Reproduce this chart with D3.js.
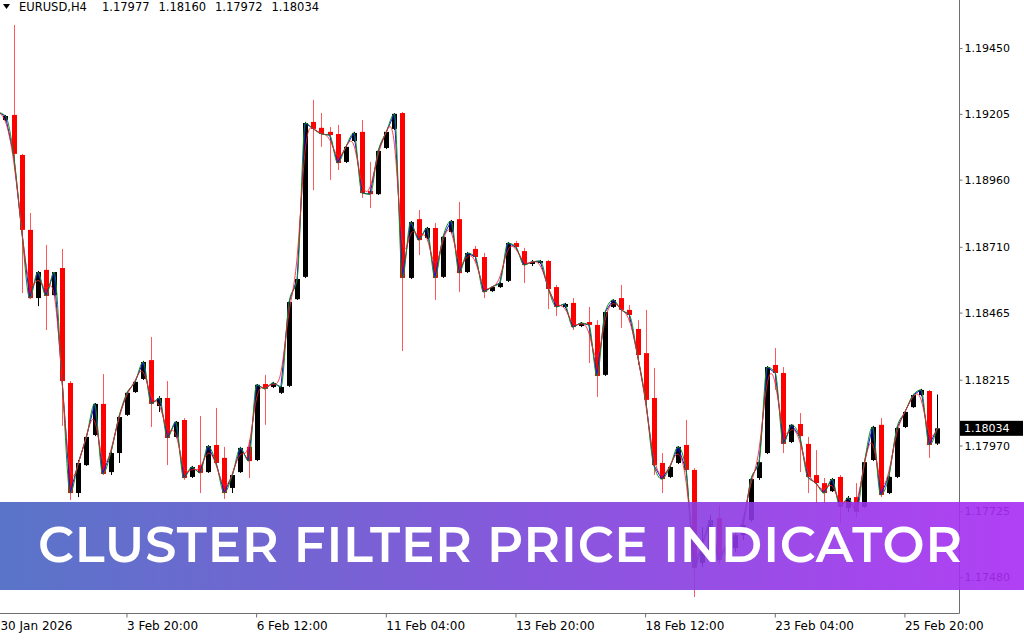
<!DOCTYPE html>
<html><head><meta charset="utf-8">
<script src="https://cdn.jsdelivr.net/npm/d3@7"></script>
<style>
html,body{margin:0;padding:0;background:#fff;}
svg{display:block;}
</style></head>
<body>
<svg id="chart" width="1024" height="640"></svg>
<script>
// ---------- data ----------
const symbolLabel = "EURUSD,H4";
const firstBarTime = Date.UTC(2026, 0, 30, 4); // 30 Jan 2026 04:00, H4 bars (weekends skipped)

const opens = [1.19190,1.19182,1.19201,1.19052,1.18773,1.18519,1.18624,1.18530,1.18631,1.18203,
1.17793,1.17897,1.18009,1.18125,1.17871,1.17942,1.18084,1.18169,1.18218,1.18288,
1.18117,1.18147,1.18002,1.18065,1.17853,1.17897,1.17871,1.17972,1.17924,1.17812,
1.17871,1.17965,1.17916,1.18199,1.18188,1.18166,1.18192,1.18515,1.18598,1.19175,
1.19153,1.19138,1.19130,1.19026,1.19104,1.19138,1.18918,1.18906,1.19078,1.19149,
1.19208,1.18594,1.18813,1.18743,1.18780,1.18598,1.18765,1.18813,1.18616,1.18702,
1.18672,1.18545,1.18560,1.18583,1.18724,1.18694,1.18646,1.18650,1.18657,1.18560,
1.18486,1.18501,1.18415,1.18430,1.18419,1.18233,1.18486,1.18519,1.18475,1.18404,
1.18314,1.18147,1.17905,1.17853,1.17905,1.17972,1.17879,1.17533,1.17562,1.17700,
1.17562,1.17588,1.17636,1.17692,1.17849,1.17942,1.18270,1.18240,1.17983,1.18050,
1.17976,1.17860,1.17830,1.17800,1.17853,1.17737,1.17778,1.17741,1.17916,1.18047,
1.17793,1.17853,1.18039,1.18113,1.18158,1.18173,1.17977];

const highs = [1.19227,1.19201,1.19536,1.19056,1.18836,1.18620,1.18717,1.18601,1.18702,1.18210,
1.17916,1.18005,1.18128,1.18236,1.17946,1.18080,1.18169,1.18210,1.18285,1.18374,
1.18154,1.18210,1.18061,1.18072,1.17894,1.18080,1.17972,1.18110,1.17965,1.17864,
1.17965,1.17990,1.18199,1.18233,1.18207,1.18192,1.18508,1.18594,1.19175,1.19257,
1.19208,1.19156,1.19164,1.19085,1.19138,1.19182,1.19026,1.19070,1.19141,1.19208,
1.19212,1.18806,1.18847,1.18784,1.18799,1.18750,1.18810,1.18877,1.18691,1.18713,
1.18687,1.18564,1.18579,1.18728,1.18732,1.18706,1.18661,1.18661,1.18661,1.18568,
1.18501,1.18519,1.18430,1.18486,1.18437,1.18471,1.18515,1.18568,1.18493,1.18437,
1.18475,1.18259,1.17942,1.17894,1.17968,1.18065,1.17886,1.17666,1.17711,1.17748,
1.17618,1.17655,1.17692,1.17849,1.17916,1.18266,1.18333,1.18262,1.18050,1.18091,
1.18002,1.17953,1.17849,1.17849,1.17860,1.17782,1.17830,1.17912,1.18043,1.18072,
1.17857,1.18039,1.18099,1.18162,1.18181,1.18177,1.18160];

const lows = [1.19175,1.19178,1.19000,1.18538,1.18515,1.18489,1.18400,1.18527,1.18043,1.17767,
1.17778,1.17894,1.18005,1.17860,1.17860,1.17905,1.18080,1.18166,1.18214,1.18039,
1.18095,1.17897,1.17998,1.17842,1.17849,1.17793,1.17868,1.17897,1.17771,1.17793,
1.17868,1.17849,1.17912,1.18047,1.18184,1.18162,1.18188,1.18512,1.18594,1.18921,
1.19082,1.18959,1.18996,1.19022,1.19100,1.18892,1.18854,1.18903,1.19074,1.19145,
1.18322,1.18590,1.18679,1.18739,1.18512,1.18594,1.18762,1.18542,1.18612,1.18654,
1.18519,1.18542,1.18557,1.18579,1.18698,1.18575,1.18638,1.18646,1.18478,1.18452,
1.18482,1.18400,1.18411,1.18277,1.18151,1.18229,1.18482,1.18408,1.18430,1.18270,
1.18110,1.17860,1.17793,1.17849,1.17901,1.17871,1.17406,1.17518,1.17551,1.17525,
1.17544,1.17573,1.17618,1.17685,1.17842,1.17938,1.18177,1.17942,1.17979,1.17871,
1.17793,1.17756,1.17756,1.17797,1.17681,1.17722,1.17700,1.17737,1.17912,1.17778,
1.17789,1.17849,1.18035,1.18110,1.18154,1.17924,1.17972];

const closes = [1.19212,1.19197,1.19056,1.18773,1.18519,1.18616,1.18527,1.18616,1.18210,1.17793,
1.17905,1.18002,1.18125,1.17864,1.17942,1.18076,1.18166,1.18207,1.18281,1.18125,
1.18147,1.17998,1.18058,1.17849,1.17890,1.17868,1.17968,1.17905,1.17793,1.17860,
1.17961,1.17912,1.18196,1.18181,1.18203,1.18188,1.18504,1.18590,1.19171,1.19149,
1.19130,1.19126,1.19022,1.19082,1.19134,1.18910,1.18906,1.19067,1.19138,1.19205,
1.18594,1.18802,1.18735,1.18780,1.18594,1.18747,1.18806,1.18612,1.18687,1.18672,
1.18542,1.18560,1.18575,1.18724,1.18709,1.18642,1.18654,1.18657,1.18553,1.18486,
1.18497,1.18411,1.18426,1.18419,1.18229,1.18467,1.18512,1.18475,1.18456,1.18307,
1.18140,1.17897,1.17845,1.17890,1.17965,1.17879,1.17514,1.17600,1.17692,1.17544,
1.17600,1.17636,1.17674,1.17845,1.17908,1.18262,1.18240,1.17976,1.18047,1.18005,
1.17853,1.17830,1.17793,1.17845,1.17741,1.17775,1.17722,1.17908,1.18039,1.17786,
1.17853,1.18035,1.18095,1.18158,1.18177,1.17972,1.18034];

const priceTicks = [1.19450, 1.19205, 1.18960, 1.18710, 1.18465, 1.18215, 1.17970, 1.17725, 1.17480];
const timeTickIndex = [0, 16, 32, 48, 64, 80, 96, 112];
const timeTickLabels = ["30 Jan 2026", "3 Feb 20:00", "6 Feb 12:00", "11 Feb 04:00",
                        "13 Feb 20:00", "18 Feb 12:00", "23 Feb 04:00", "25 Feb 20:00"];
const bannerTitle = "CLUSTER FILTER PRICE INDICATOR";

// ---------- categories (bar times) ----------
const barTimes = [];
{
  let t = firstBarTime;
  while (barTimes.length < opens.length) {
    const d = new Date(t);
    const wd = d.getUTCDay();
    if (wd !== 0 && wd !== 6) barTimes.push(d.toISOString());
    t += 4 * 3600 * 1000;
  }
}
const bars = opens.map((o, i) => ({ key: barTimes[i], o, h: highs[i], l: lows[i], c: closes[i] }));

// ---------- layout ----------
const W = 1024, H = 640;
const plotRight = 959, plotBottom = 613;
const svg = d3.select("#chart");

const x = d3.scaleBand().domain(barTimes).range([-6.75, 941.4]).padding(0);
const y = d3.scaleLinear().domain([1.17350, 1.19629]).range([612, 0]);
const cx = k => x(k) + x.bandwidth() / 2;

const defs = svg.append("defs");
defs.append("clipPath").attr("id", "plotClip")
  .append("rect").attr("x", 0).attr("y", 0).attr("width", plotRight).attr("height", plotBottom);

const grad = defs.append("linearGradient").attr("id", "bannerGrad")
  .attr("x1", "0%").attr("y1", "0%").attr("x2", "100%").attr("y2", "0%");
[["0%", "#4766c2"], ["35%", "#6a50d0"], ["70%", "#8c3be2"], ["100%", "#a82cf3"]]
  .forEach(([o, c]) => grad.append("stop").attr("offset", o).attr("stop-color", c));

svg.append("rect").attr("width", W).attr("height", H).attr("fill", "#fff");

const plot = svg.append("g").attr("clip-path", "url(#plotClip)");

// wicks
plot.append("g").selectAll("line").data(bars).join("line")
  .attr("x1", d => Math.round(cx(d.key)) + 0.5)
  .attr("x2", d => Math.round(cx(d.key)) + 0.5)
  .attr("y1", d => y(d.h))
  .attr("y2", d => y(d.l))
  .attr("stroke", d => d.c >= d.o ? "#000" : "#ff2020")
  .attr("stroke-opacity", d => d.c >= d.o ? 1 : 0.75)
  .attr("stroke-width", 1);

// bodies
const bodyW = 5;
plot.append("g").selectAll("rect").data(bars).join("rect")
  .attr("x", d => Math.round(cx(d.key)) + 0.5 - bodyW / 2)
  .attr("width", bodyW)
  .attr("y", d => y(Math.max(d.o, d.c)))
  .attr("height", d => Math.max(1.5, Math.abs(y(d.o) - y(d.c))))
  .attr("fill", d => d.c >= d.o ? "#000" : "#ff0000");

// indicator lines (drawn through the closes with different curve styles)
const lineGen = curve => d3.line().x(d => cx(d.key)).y(d => y(d.c)).curve(curve);
plot.append("path").datum(bars).attr("d", lineGen(d3.curveLinear))
  .attr("fill", "none").attr("stroke", "#1010ff").attr("stroke-width", 1);
plot.append("path").datum(bars).attr("d", lineGen(d3.curveMonotoneX))
  .attr("fill", "none").attr("stroke", "#109010").attr("stroke-width", 1);
plot.append("path").datum(bars).attr("d", lineGen(d3.curveBasis))
  .attr("fill", "none").attr("stroke", "#ff2020").attr("stroke-width", 1).attr("stroke-opacity", 0.85);

// axes frame
svg.append("line").attr("x1", plotRight + 0.5).attr("x2", plotRight + 0.5).attr("y1", 0).attr("y2", plotBottom + 0.5)
  .attr("stroke", "#6e6e6e");
svg.append("line").attr("x1", 0).attr("x2", plotRight + 0.5).attr("y1", plotBottom + 0.5).attr("y2", plotBottom + 0.5)
  .attr("stroke", "#6e6e6e");

// right price axis
const yAxis = d3.axisRight(y).tickValues(priceTicks).tickFormat(d3.format(".5f")).tickSize(3).tickPadding(2);
const gy = svg.append("g").attr("transform", `translate(${plotRight + 0.5},0)`).call(yAxis);
gy.select(".domain").remove();
gy.selectAll("line").attr("stroke", "#6e6e6e");
gy.selectAll("text").attr("font-family", "DejaVu Sans").attr("font-size", 11).attr("fill", "#000");

// current price label
const last = bars[bars.length - 1];
const cp = svg.append("g").attr("transform", `translate(${plotRight + 1},${y(last.c)})`);
cp.append("rect").attr("x", 0).attr("y", -7.5).attr("width", 63).attr("height", 15).attr("fill", "#000");
cp.append("text").attr("x", 4).attr("dy", "0.36em").text(d3.format(".5f")(last.c))
  .attr("font-family", "DejaVu Sans").attr("font-size", 11).attr("fill", "#fff");

// bottom time axis
const tickKeys = timeTickIndex.map(i => barTimes[i]);
const xAxis = d3.axisBottom(x).tickValues(tickKeys)
  .tickFormat((k, i) => timeTickLabels[i]).tickSize(4).tickPadding(4);
const gx = svg.append("g").attr("transform", `translate(0,${plotBottom + 0.5})`).call(xAxis);
gx.select(".domain").remove();
gx.selectAll("line").attr("stroke", "#6e6e6e");
gx.selectAll("text").attr("text-anchor", "start").attr("font-family", "DejaVu Sans")
  .attr("font-size", 12).attr("fill", "#000")
  .attr("x", k => Math.max(0, -cx(k) + 0.5));

// header
const hdr = svg.append("g");
hdr.append("path").attr("d", "M3,4 L10,4 L6.5,9 Z").attr("fill", "#000");
hdr.append("text").attr("x", 19).attr("y", 11).text(symbolLabel)
  .attr("font-family", "DejaVu Sans").attr("font-size", 11.5).attr("fill", "#000");
const headerVals = [last.o, last.h, last.l, last.c].map(d3.format(".5f"));
hdr.selectAll("text.v").data(headerVals).join("text").attr("class", "v")
  .attr("x", (d, i) => 102 + i * 56.5).attr("y", 11).text(d => d)
  .attr("font-family", "DejaVu Sans").attr("font-size", 11.5).attr("fill", "#000");

// banner
const banner = svg.append("g");
banner.append("rect").attr("x", 0).attr("y", 502).attr("width", W).attr("height", 88)
  .attr("fill", "url(#bannerGrad)").attr("fill-opacity", 0.9);
banner.append("text").attr("x", 500).attr("y", 562).attr("text-anchor", "middle")
  .attr("font-family", "Montserrat, Inter, 'Open Sans', sans-serif").attr("font-weight", 600)
  .attr("font-size", 50).attr("fill", "#fff")
  .attr("textLength", 924).attr("lengthAdjust", "spacing")
  .text(bannerTitle);
</script>
</body></html>
